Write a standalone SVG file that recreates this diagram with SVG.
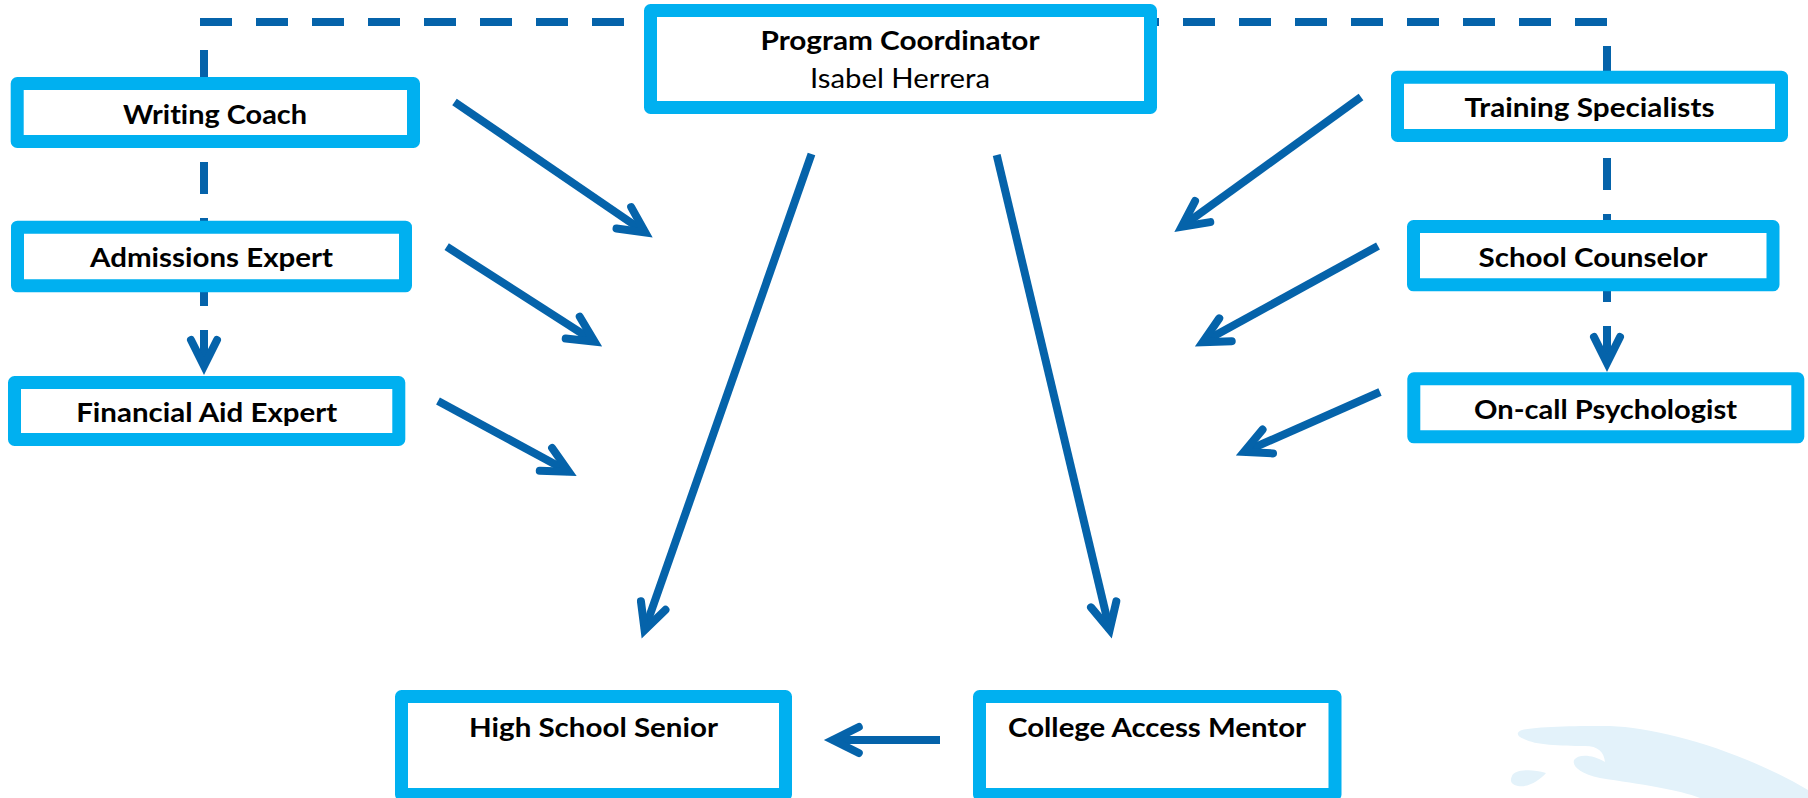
<svg xmlns="http://www.w3.org/2000/svg" width="1808" height="798" viewBox="0 0 1808 798">
<style>
.box{fill:#FFFFFF;stroke:#00B0F0;stroke-width:13;stroke-linejoin:round}
.t{font-family:Lato,"Open Sans","Liberation Sans",sans-serif;font-size:27px;font-weight:bold;fill:#000000;text-anchor:middle;font-variant-ligatures:none;font-feature-settings:"liga" 0}
.r{font-weight:normal}
.c{fill:none;stroke:#0563AA;stroke-width:8}
.d{stroke-dasharray:32 24}
.wm{fill:#E3F2FA}
</style>
<defs>
<marker id="ah" markerUnits="userSpaceOnUse" markerWidth="60" markerHeight="60" viewBox="-40 -30 60 60" refX="0" refY="0" orient="auto" overflow="visible">
<path d="M-26,-13 L0,0 L-26,13" fill="none" stroke="#0563AA" stroke-width="8" stroke-linecap="round" stroke-linejoin="miter"/>
</marker>
</defs>
<g id="watermark">
<path class="wm" d="M1522,730 C1540,726 1580,726 1610,726 C1660,728 1740,750 1808,790 L1808,798 L1700,798 C1680,790 1640,784 1600,778 C1580,774 1572,766 1574,760 C1578,754 1592,754 1605,762 C1604,752 1598,746 1585,746 C1560,746 1535,745 1524,739 C1516,736 1516,732 1522,730 Z"/>
<path class="wm" d="M1512,776 C1514,770 1530,768 1546,773 C1540,780 1528,788 1518,786 C1510,784 1510,780 1512,776 Z"/>
</g>
<g id="connectors">
<path class="c d" d="M624,22 H204 V366" marker-end="url(#ah)"/>
<path class="c d" d="M1127,22 H1607 V363" marker-end="url(#ah)"/>
<line class="c" x1="454.5" y1="102" x2="645.3" y2="232.5" marker-end="url(#ah)"/>
<line class="c" x1="446.7" y1="246.7" x2="594.6" y2="341.7" marker-end="url(#ah)"/>
<line class="c" x1="438" y1="401" x2="568.8" y2="471.8" marker-end="url(#ah)"/>
<line class="c" x1="1361" y1="97" x2="1181.6" y2="226.8" marker-end="url(#ah)"/>
<line class="c" x1="1378" y1="246" x2="1202.7" y2="342.3" marker-end="url(#ah)"/>
<line class="c" x1="1380" y1="392" x2="1244" y2="452" marker-end="url(#ah)"/>
<line class="c" x1="811.5" y1="154" x2="644.6" y2="630" marker-end="url(#ah)"/>
<line class="c" x1="996.7" y1="155" x2="1109.7" y2="629.7" marker-end="url(#ah)"/>
<line class="c" x1="940" y1="740" x2="832.8" y2="740" marker-end="url(#ah)"/>
</g>
<g id="program-coordinator">
<rect class="box" x="650.5" y="10.5" width="500" height="97"/>
<text class="t" x="900" y="50" textLength="279" lengthAdjust="spacingAndGlyphs">Program Coordinator</text>
<text class="t r" x="900" y="88" textLength="180" lengthAdjust="spacingAndGlyphs">Isabel Herrera</text>
</g>
<g id="writing-coach">
<rect class="box" x="17.2" y="83.5" width="396.3" height="58"/>
<text class="t" x="215" y="123.5" textLength="184" lengthAdjust="spacingAndGlyphs">Writing Coach</text>
</g>
<g id="admissions-expert">
<rect class="box" x="17.5" y="227.2" width="388" height="58.6"/>
<text class="t" x="211.5" y="266.5" textLength="243" lengthAdjust="spacingAndGlyphs">Admissions Expert</text>
</g>
<g id="financial-aid-expert">
<rect class="box" x="14.5" y="382.5" width="384.3" height="57"/>
<text class="t" x="206.7" y="421.5" textLength="261" lengthAdjust="spacingAndGlyphs">Financial Aid Expert</text>
</g>
<g id="training-specialists">
<rect class="box" x="1397.5" y="77.2" width="384" height="58.3"/>
<text class="t" x="1589.5" y="116.7" textLength="250" lengthAdjust="spacingAndGlyphs">Training Specialists</text>
</g>
<g id="school-counselor">
<rect class="box" x="1413.5" y="226.5" width="359.5" height="58.3"/>
<text class="t" x="1593" y="266.5" textLength="229" lengthAdjust="spacingAndGlyphs">School Counselor</text>
</g>
<g id="on-call-psychologist">
<rect class="box" x="1413.8" y="378.8" width="384" height="58"/>
<text class="t" x="1605.5" y="419.3" textLength="263" lengthAdjust="spacingAndGlyphs">On-call Psychologist</text>
</g>
<g id="high-school-senior">
<rect class="box" x="401.5" y="696.5" width="384" height="98"/>
<text class="t" x="593.5" y="736.7" textLength="249" lengthAdjust="spacingAndGlyphs">High School Senior</text>
</g>
<g id="college-access-mentor">
<rect class="box" x="979.5" y="696.5" width="355.5" height="98"/>
<text class="t" x="1157" y="736.7" textLength="298" lengthAdjust="spacingAndGlyphs">College Access Mentor</text>
</g>
</svg>
